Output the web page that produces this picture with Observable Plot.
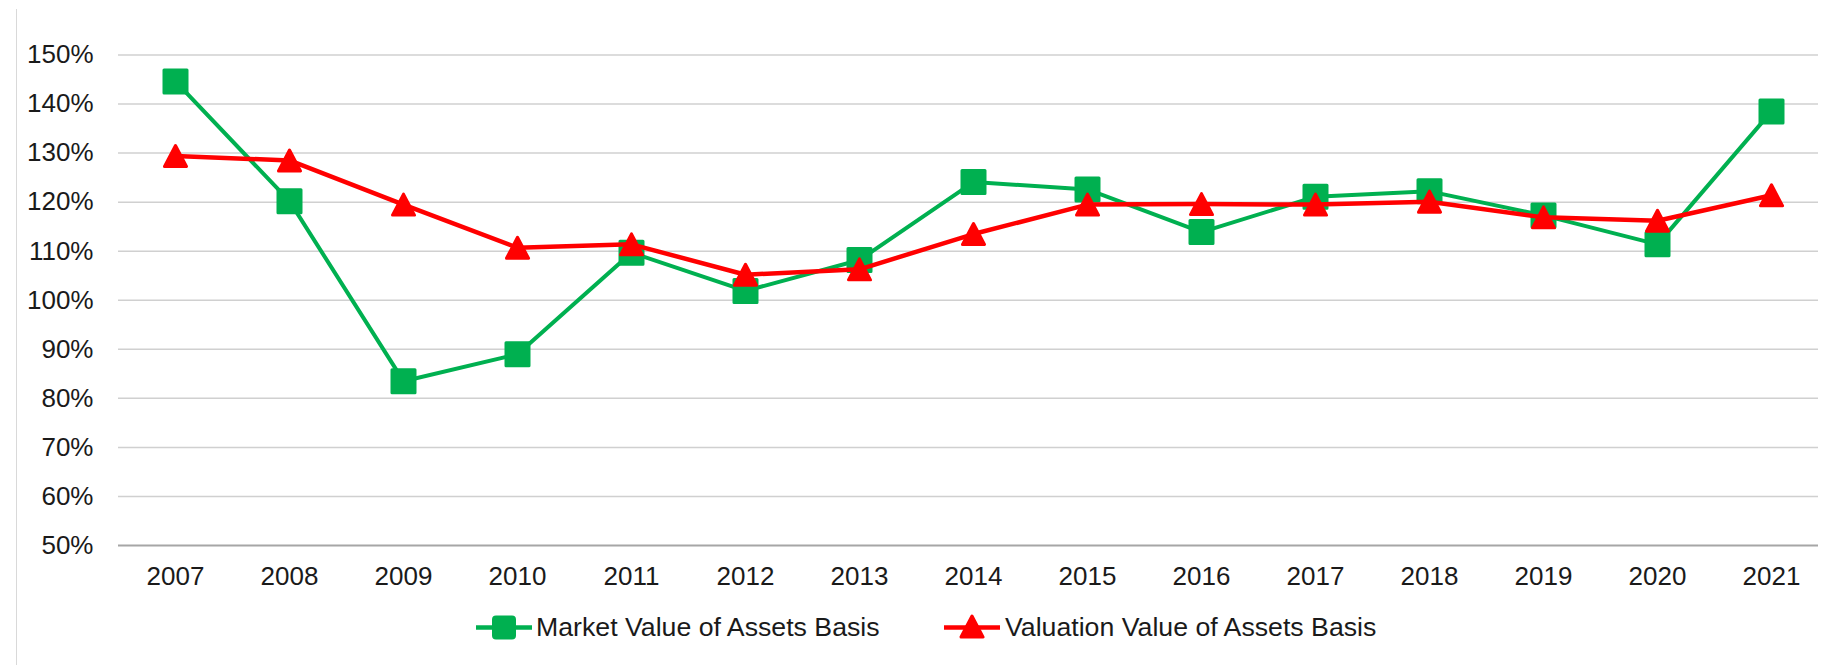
<!DOCTYPE html>
<html>
<head>
<meta charset="utf-8">
<script src="https://cdn.jsdelivr.net/npm/d3@7"></script>
<script src="https://cdn.jsdelivr.net/npm/@observablehq/plot@0.6"></script>
<style>
  html, body { margin: 0; padding: 0; background: #fff; }
  #wrap { position: relative; width: 1835px; height: 665px; overflow: hidden; font-family: "Liberation Sans", Arial, sans-serif; }
  #border { position: absolute; left: 16px; top: 9px; bottom: 0; width: 0; border-left: 1.5px solid #d9d9d9; }
  #chart { position: absolute; left: 0; top: 0; }
  .legend-item { position: absolute; top: 612px; height: 30px; display: flex; align-items: center; font-size: 26.7px; color: #1a1a1a; white-space: nowrap; }
  .legend-item svg { display: block; }
</style>
</head>
<body>
<div id="wrap">
  <div id="border"></div>
  <div id="chart"></div>
  <div id="legend"></div>
</div>
<script>
// ---- data ----
const years = ["2007","2008","2009","2010","2011","2012","2013","2014","2015","2016","2017","2018","2019","2020","2021"];
const marketValue = [144.6, 120.2, 83.5, 89.0, 109.7, 101.9, 108.2, 124.1, 122.6, 113.9, 121.1, 122.2, 117.3, 111.4, 138.5];
const valuationValue = [129.4, 128.5, 119.5, 110.7, 111.4, 105.2, 106.3, 113.5, 119.5, 119.6, 119.5, 120.1, 116.9, 116.2, 121.4];
const yTicks = [0.5, 0.6, 0.7, 0.8, 0.9, 1.0, 1.1, 1.2, 1.3, 1.4, 1.5];
const seriesNames = ["Market Value of Assets Basis", "Valuation Value of Assets Basis"];
const seriesColors = ["#00B050", "#FF0000"];

const marketData = years.map((year, i) => ({year, value: marketValue[i] / 100}));
const valuationData = years.map((year, i) => ({year, value: valuationValue[i] / 100}));

// custom marker symbols (centered on their bounding box, like the spreadsheet markers)
const squareSym = {draw(ctx, size) { const r = Math.sqrt(size / Math.PI); ctx.moveTo(-r, -r); ctx.lineTo(r, -r); ctx.lineTo(r, r); ctx.lineTo(-r, r); ctx.closePath(); }};
const triSym = {draw(ctx, size) { const r = Math.sqrt(size / Math.PI); ctx.moveTo(0, -r); ctx.lineTo(r * 1.05, r); ctx.lineTo(-r * 1.05, r); ctx.closePath(); }};

const chart = Plot.plot({
  width: 1835,
  height: 600,
  marginTop: 54.5,
  marginBottom: 55,
  marginLeft: 118,
  marginRight: 17,
  style: {fontFamily: "'Liberation Sans', Arial, sans-serif", fontSize: "26px", color: "#1a1a1a", background: "transparent", overflow: "visible"},
  x: {type: "point", domain: years, range: [174, 1772], padding: 0, label: null, tickSize: 0, tickPadding: 21},
  y: {domain: [0.5, 1.5], ticks: yTicks, tickFormat: d3.format(".0%"), label: null, tickSize: 0, tickPadding: 25},
  marks: [
    Plot.ruleY(yTicks.filter(t => t > 0.5), {stroke: "#d0d0d0", strokeWidth: 1.5, strokeOpacity: 1}),
    Plot.ruleY([0.5], {stroke: "#a6a6a6", strokeWidth: 2, strokeOpacity: 1}),
    Plot.line(marketData, {x: "year", y: "value", stroke: seriesColors[0], strokeWidth: 4}),
    Plot.dot(marketData, {x: "year", y: "value", symbol: squareSym, r: 11.5, fill: seriesColors[0], stroke: seriesColors[0], strokeWidth: 3, strokeLinejoin: "round"}),
    Plot.line(valuationData, {x: "year", y: "value", stroke: seriesColors[1], strokeWidth: 4.5}),
    Plot.dot(valuationData, {x: "year", y: "value", symbol: triSym, r: 10.5, fill: seriesColors[1], stroke: seriesColors[1], strokeWidth: 3, strokeLinejoin: "round"})
  ]
});
document.getElementById("chart").appendChild(chart);

// legend below the plot
const legend = document.getElementById("legend");
const legendLefts = [476, 944];
const markerPaths = [
  '<rect x="17" y="2.5" width="22" height="22" rx="3" fill="#00B050" stroke="#00B050" stroke-width="2" stroke-linejoin="round"/>',
  '<path d="M28,2 L39,23 L17,23 Z" fill="#FF0000" stroke="#FF0000" stroke-width="3" stroke-linejoin="round"/>'
];
seriesNames.forEach((name, i) => {
  const item = document.createElement("div");
  item.className = "legend-item";
  item.style.left = legendLefts[i] + "px";
  item.innerHTML = `<svg width="56" height="27" viewBox="0 0 56 27"><line x1="0" x2="56" y1="13.5" y2="13.5" stroke="${seriesColors[i]}" stroke-width="4.5"/>${markerPaths[i]}</svg><span style="margin-left:${i === 0 ? 4 : 5}px">${name}</span>`;
  legend.appendChild(item);
});
</script>
</body>
</html>
